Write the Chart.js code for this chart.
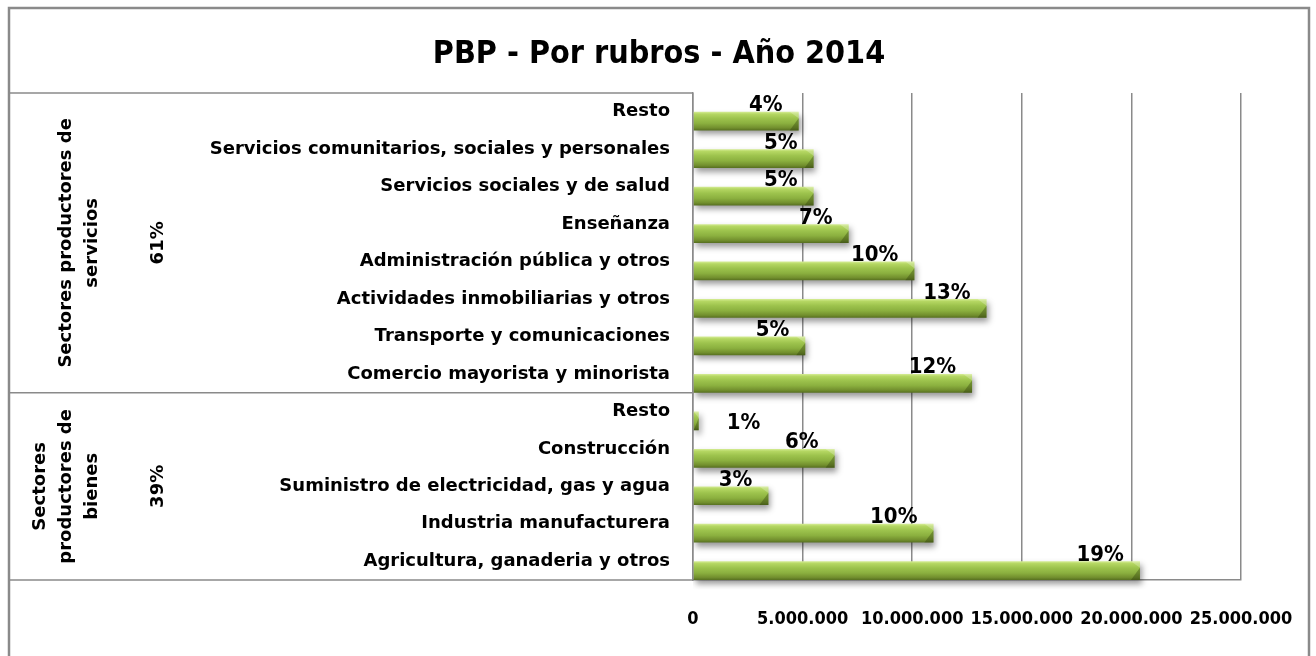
<!DOCTYPE html>
<html>
<head>
<meta charset="utf-8">
<script src="https://cdn.jsdelivr.net/npm/chart.js@4.4.1/dist/chart.umd.min.js"></script>
<style>
    html, body { margin: 0; padding: 0; background: #fff; }
    #chartPbp { display: block; }
</style>
</head>
<body>
<canvas id="chartPbp" width="1316" height="656"></canvas>
<script>
// -------------------------------------------------------
// Data
// -------------------------------------------------------
const CATEGORIES = [
    'Resto',
    'Servicios comunitarios, sociales y personales',
    'Servicios sociales y de salud',
    'Enseñanza',
    'Administración pública y otros',
    'Actividades inmobiliarias y otros',
    'Transporte y comunicaciones',
    'Comercio mayorista y minorista',
    'Resto',
    'Construcción',
    'Suministro de electricidad, gas y agua',
    'Industria manufacturera',
    'Agricultura, ganaderia y otros'
];
const VALUES = [
    4820000, 5500000, 5500000, 7100000, 10100000, 13390000, 5120000,
    12730000, 260000, 6460000, 3440000, 10970000, 20390000
];
const PCT_LABELS = ['4%', '5%', '5%', '7%', '10%', '13%', '5%', '12%', '1%', '6%', '3%', '10%', '19%'];

const GROUP_NAMES = [
    ['Sectores productores de', 'servicios'],
    ['Sectores', 'productores de', 'bienes']
];
const GROUP_SHARES = ['61%', '39%'];
const GROUP_SIZES = [8, 5];

const X_MIN = 0;
const X_MAX = 25000000;
const X_STEP = 5000000;

const TITLE = 'PBP - Por rubros - Año 2014';

// -------------------------------------------------------
// Styling helpers
// -------------------------------------------------------
const FONT = 'DejaVu Sans';
const FONT_NARROW = '"DejaVu Sans Condensed", "DejaVu Sans"';
const LINE = '#8a8a8a';
const BAR_SHIFT = 9.4;   // 3D look: bars sit a bit below the category centre

const fmtThousands = v => String(v).replace(/\B(?=(\d{3})+(?!\d))/g, '.');

function barGradient(c) {
    const ys = c.chart.scales.y;
    const fallback = '#93b545';
    if (!ys || c.dataIndex === undefined || !(ys.height > 0)) return fallback;
    const step = ys.height / CATEGORIES.length;
    const yc = ys.getPixelForValue(c.dataIndex);
    if (!Number.isFinite(yc) || !Number.isFinite(step)) return fallback;
    const half = step * 0.25;
    const g = c.chart.ctx.createLinearGradient(0, yc - half, 0, yc + half);
    g.addColorStop(0, '#d6ed96');
    g.addColorStop(0.12, '#b5d763');
    g.addColorStop(0.35, '#9dc34d');
    g.addColorStop(0.62, '#8bb03f');
    g.addColorStop(0.86, '#728f2e');
    g.addColorStop(1, '#566f20');
    return g;
}

// -------------------------------------------------------
// Plugins: frame + title, bar shift/shadow/labels, group table
// -------------------------------------------------------
const framePlugin = {
    id: 'frame',
    beforeDraw(chart) {
        const ctx = chart.ctx;
        ctx.save();
        ctx.fillStyle = '#fff';
        ctx.fillRect(0, 0, chart.width, chart.height);
        ctx.restore();
    },
    afterDraw(chart) {
        const ctx = chart.ctx;
        ctx.save();
        ctx.strokeStyle = LINE;
        ctx.lineWidth = 2.5;
        ctx.strokeRect(9, 8, 1300, 700);
        ctx.fillStyle = '#000';
        ctx.font = `bold 32px ${FONT_NARROW}`;
        ctx.textAlign = 'center';
        ctx.textBaseline = 'alphabetic';
        ctx.fillText(TITLE, 659, 63);
        ctx.restore();
    }
};

const barLookPlugin = {
    id: 'barLook',
    beforeDatasetsDraw(chart) {
        const ctx = chart.ctx;
        ctx.save();
        ctx.translate(0, BAR_SHIFT);
        ctx.shadowColor = 'rgba(0,0,0,0.4)';
        ctx.shadowBlur = 6;
        ctx.shadowOffsetX = 2;
        ctx.shadowOffsetY = 4;
    },
    afterDatasetsDraw(chart) {
        const ctx = chart.ctx;
        ctx.shadowColor = 'transparent';
        ctx.shadowBlur = 0;
        ctx.shadowOffsetX = 0;
        ctx.shadowOffsetY = 0;
        const meta = chart.getDatasetMeta(0);
        meta.data.forEach((el, i) => {
            const top = el.y - el.height / 2;
            const bot = el.y + el.height / 2;
            const len = el.x - el.base;
            // bevelled right end
            const b = Math.min(9, len);
            ctx.fillStyle = 'rgba(255,255,255,0.25)';
            ctx.beginPath();
            ctx.moveTo(el.x - b, top);
            ctx.lineTo(el.x, top);
            ctx.lineTo(el.x, top + el.height * 0.35);
            ctx.closePath();
            ctx.fill();
            ctx.fillStyle = 'rgba(40,55,10,0.35)';
            ctx.beginPath();
            ctx.moveTo(el.x, top + el.height * 0.35);
            ctx.lineTo(el.x, bot);
            ctx.lineTo(el.x - b, bot);
            ctx.closePath();
            ctx.fill();

            // percentage label
            ctx.fillStyle = '#000';
            ctx.font = `bold 22px ${FONT_NARROW}`;
            if (len > 40) {
                ctx.textAlign = 'right';
                ctx.textBaseline = 'alphabetic';
                ctx.fillText(PCT_LABELS[i], el.x - 16, top - 0.5);
            } else {
                ctx.textAlign = 'left';
                ctx.textBaseline = 'middle';
                ctx.fillText(PCT_LABELS[i], el.x + 28, el.y + 2);
            }
        });
        ctx.restore();
    }
};

const groupPlugin = {
    id: 'groups',
    afterDraw(chart) {
        const ctx = chart.ctx;
        const ys = chart.scales.y;
        const step = ys.height / CATEGORIES.length;
        ctx.save();
        ctx.strokeStyle = LINE;
        ctx.lineWidth = 1.5;

        let first = 0;
        const edges = [ys.getPixelForValue(0) - step / 2];
        GROUP_SIZES.forEach((n, g) => {
            const last = first + n - 1;
            const y0 = ys.getPixelForValue(first) - step / 2;
            const y1 = ys.getPixelForValue(last) + step / 2;
            edges.push(y1);
            const yc = (y0 + y1) / 2;

            ctx.fillStyle = '#000';
            ctx.font = `bold 18px "${FONT}"`;
            ctx.textAlign = 'center';
            ctx.textBaseline = 'alphabetic';
            const lines = GROUP_NAMES[g];
            lines.forEach((txt, j) => {
                const bx = 97 - (lines.length - 1 - j) * 26;
                ctx.save();
                ctx.translate(bx, yc);
                ctx.rotate(-Math.PI / 2);
                ctx.fillText(txt, 0, 0);
                ctx.restore();
            });
            ctx.save();
            ctx.translate(163, yc);
            ctx.rotate(-Math.PI / 2);
            ctx.fillText(GROUP_SHARES[g], 0, 0);
            ctx.restore();
            first = last + 1;
        });

        edges.forEach(y => {
            ctx.beginPath();
            ctx.moveTo(9, y);
            ctx.lineTo(chart.chartArea.left, y);
            ctx.stroke();
        });
        ctx.restore();
    }
};

// -------------------------------------------------------
// Chart
// -------------------------------------------------------
new Chart(document.getElementById('chartPbp').getContext('2d'), {
    type: 'bar',
    data: {
        labels: CATEGORIES,
        datasets: [{
            data: VALUES,
            backgroundColor: barGradient,
            borderWidth: 0,
            barPercentage: 0.5,
            categoryPercentage: 1
        }]
    },
    options: {
        indexAxis: 'y',
        responsive: false,
        devicePixelRatio: 1,
        animation: false,
        layout: { padding: { left: 10, right: 75, top: 93, bottom: 0 } },
        plugins: {
            legend: { display: false },
            tooltip: { enabled: false },
            title: { display: false }
        },
        scales: {
            x: {
                min: X_MIN,
                max: X_MAX,
                ticks: {
                    stepSize: X_STEP,
                    autoSkip: false,
                    maxRotation: 0,
                    padding: 29,
                    color: '#000',
                    font: { family: FONT_NARROW, size: 18, weight: 'bold' },
                    callback: v => fmtThousands(v)
                },
                grid: { color: LINE, lineWidth: 1.5, drawTicks: false },
                border: { display: true, color: LINE, width: 1.5 },
                afterFit: s => {
                    s.height = 76;
                    s.paddingLeft = 0;
                    s.paddingRight = 0;
                }
            },
            y: {
                ticks: {
                    autoSkip: false,
                    padding: 23,
                    color: '#000',
                    font: { family: FONT, size: 18, weight: 'bold' }
                },
                grid: { display: false, drawTicks: false },
                border: { display: true, color: LINE, width: 1.5 },
                afterFit: s => { s.width = 683; }
            }
        }
    },
    plugins: [framePlugin, barLookPlugin, groupPlugin]
});
</script>
</body>
</html>
